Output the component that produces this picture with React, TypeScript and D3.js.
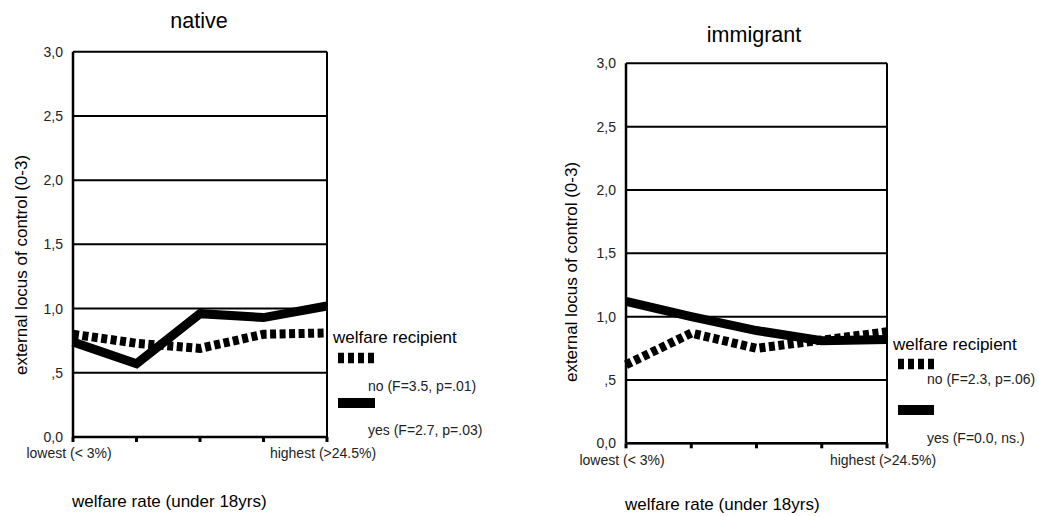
import React from "react";
import * as d3 from "d3";

const categories = ["lowest (< 3%)", "", "", "", "highest (>24.5%)"];
const yTicks = [0, 0.5, 1, 1.5, 2, 2.5, 3];
const yTickLabels = ["0,0", ",5", "1,0", "1,5", "2,0", "2,5", "3,0"];

const nativeNo = [0.8, 0.73, 0.69, 0.8, 0.81];
const nativeYes = [0.74, 0.57, 0.96, 0.93, 1.02];
const immigrantNo = [0.62, 0.87, 0.75, 0.815, 0.88];
const immigrantYes = [1.12, 1.0, 0.89, 0.81, 0.82];

const nativeLegend = ["no (F=3.5, p=.01)", "yes (F=2.7, p=.03)"];
const immigrantLegend = ["no (F=2.3, p=.06)", "yes (F=0.0, ns.)"];

const FONT = "'Liberation Sans', Arial, Helvetica, sans-serif";

type PanelCfg = {
  title: string;
  no: number[];
  yes: number[];
  legend: string[];
  x0: number;
  x1: number;
  yTop: number;
  yBot: number;
  titleX: number;
  titleY: number;
  yTitleX: number;
  yTitleY: number;
  legX: number;
  legY: number;
  swX: number;
  swNoY: number;
  swYesY: number;
  swW: number;
  txtX: number;
  noTxtY: number;
  yesTxtY: number;
  tickLabY: number;
  xTitleX: number;
  xTitleY: number;
};

function Panel({ c }: { c: PanelCfg }) {
  const x = d3.scalePoint<number>().domain(d3.range(categories.length)).range([c.x0, c.x1]);
  const y = d3.scaleLinear().domain([0, 3]).range([c.yBot, c.yTop]);
  const line = d3
    .line<number>()
    .x((_, i) => x(i) as number)
    .y((d) => y(d));
  return (
    <g>
      <text x={c.titleX} y={c.titleY} fontSize={21.5} textAnchor="middle" fontFamily={FONT}>
        {c.title}
      </text>
      {/* grid */}
      {yTicks.map((t, i) => (
        <g key={i}>
          <line x1={c.x0} x2={c.x1} y1={y(t)} y2={y(t)} stroke="#000" strokeWidth={2} />
          <text
            x={c.x0 - 10}
            y={y(t) + 5}
            fontSize={14}
            textAnchor="end"
            fill="#222"
            fontFamily={FONT}
          >
            {yTickLabels[i]}
          </text>
        </g>
      ))}
      <line x1={c.x0} x2={c.x0} y1={c.yTop} y2={c.yBot} stroke="#000" strokeWidth={2.5} />
      <line x1={c.x1} x2={c.x1} y1={c.yTop} y2={c.yBot} stroke="#000" strokeWidth={2} />
      <line x1={c.x0} x2={c.x1} y1={c.yBot} y2={c.yBot} stroke="#000" strokeWidth={2.5} />
      {categories.map((cat, i) => (
        <g key={i}>
          <line
            x1={x(i)}
            x2={x(i)}
            y1={c.yBot}
            y2={c.yBot + 5}
            stroke="#000"
            strokeWidth={3}
          />
          {cat && (
            <text
              x={(x(i) as number) - 4}
              y={c.tickLabY}
              fontSize={14}
              textAnchor="middle"
              fill="#222"
              fontFamily={FONT}
            >
              {cat}
            </text>
          )}
        </g>
      ))}
      {/* data */}
      <path d={line(c.no) || ""} fill="none" stroke="#000" strokeWidth={9} strokeDasharray="6,3.5" />
      <path d={line(c.yes) || ""} fill="none" stroke="#000" strokeWidth={9} />
      {/* y title */}
      <text
        transform={`translate(${c.yTitleX},${c.yTitleY}) rotate(-90)`}
        fontSize={17}
        textAnchor="middle"
        fontFamily={FONT}
      >
        external locus of control (0-3)
      </text>
      {/* legend */}
      <text x={c.legX} y={c.legY} fontSize={17} fontFamily={FONT}>
        welfare recipient
      </text>
      <line
        x1={c.swX}
        x2={c.swX + c.swW}
        y1={c.swNoY + 5}
        y2={c.swNoY + 5}
        stroke="#000"
        strokeWidth={10.5}
        strokeDasharray="6,4"
      />
      <text x={c.txtX} y={c.noTxtY} fontSize={14} fill="#222" fontFamily={FONT}>
        {c.legend[0]}
      </text>
      <rect x={c.swX} y={c.swYesY} width={c.swW} height={10} fill="#000" />
      <text x={c.txtX} y={c.yesTxtY} fontSize={14} fill="#222" fontFamily={FONT}>
        {c.legend[1]}
      </text>
      <text x={c.xTitleX} y={c.xTitleY} fontSize={17} fontFamily={FONT}>
        welfare rate (under 18yrs)
      </text>
    </g>
  );
}

const panels: PanelCfg[] = [
  {
    title: "native",
    no: nativeNo,
    yes: nativeYes,
    legend: nativeLegend,
    x0: 73,
    x1: 327,
    yTop: 51.7,
    yBot: 437,
    titleX: 199,
    titleY: 28,
    yTitleX: 27,
    yTitleY: 265,
    legX: 333,
    legY: 343,
    swX: 338,
    swNoY: 353,
    swYesY: 398,
    swW: 37,
    txtX: 368,
    noTxtY: 391,
    yesTxtY: 435,
    tickLabY: 458,
    xTitleX: 72,
    xTitleY: 507,
  },
  {
    title: "immigrant",
    no: immigrantNo,
    yes: immigrantYes,
    legend: immigrantLegend,
    x0: 626,
    x1: 887,
    yTop: 63.3,
    yBot: 443.3,
    titleX: 754,
    titleY: 42,
    yTitleX: 577,
    yTitleY: 272,
    legX: 893,
    legY: 350,
    swX: 898,
    swNoY: 359,
    swYesY: 405,
    swW: 36,
    txtX: 927,
    noTxtY: 384,
    yesTxtY: 443,
    tickLabY: 465,
    xTitleX: 625,
    xTitleY: 510,
  },
];

export default function App() {
  return (
    <svg
      width={1039}
      height={516}
      style={{ position: "absolute", left: 0, top: 0, background: "#fff" }}
    >
      <rect width={1039} height={516} fill="#fff" />
      {panels.map((p, i) => (
        <Panel key={i} c={p} />
      ))}
    </svg>
  );
}
